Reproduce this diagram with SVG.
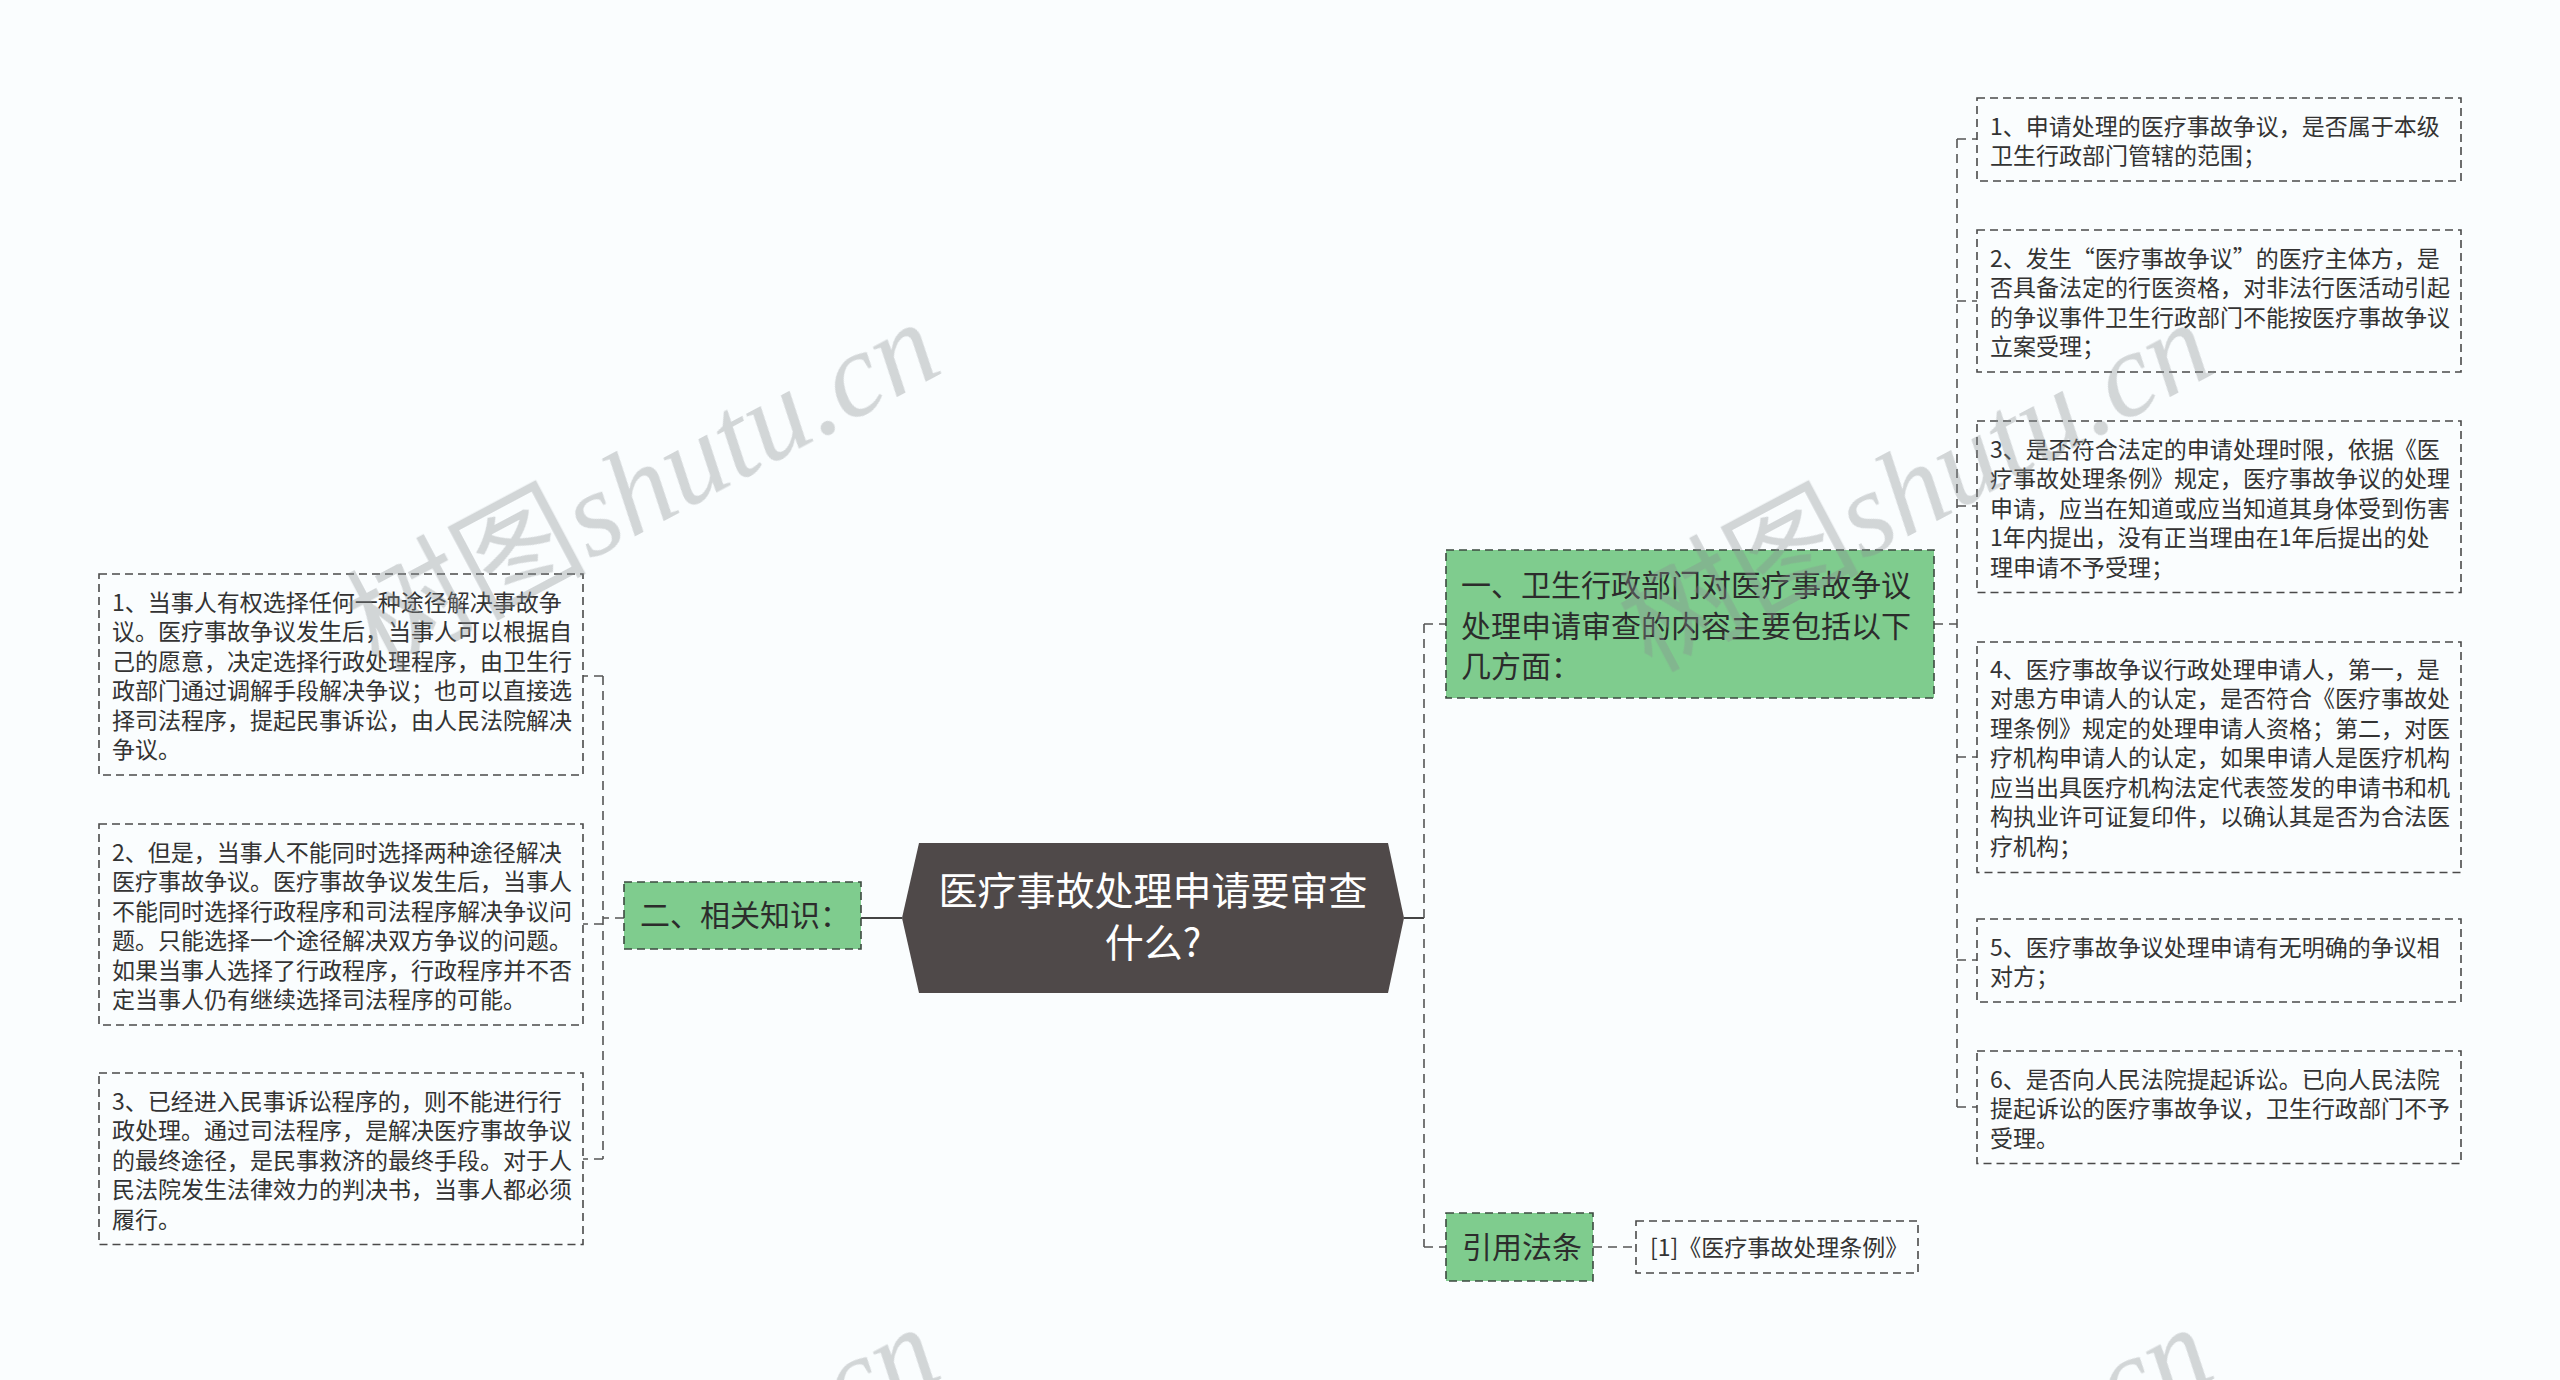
<svg xmlns="http://www.w3.org/2000/svg" width="2560" height="1380" viewBox="0 0 2560 1380">
<style>
  .bg{fill:#fafdfe}
  .box{fill:none;stroke:#4a4a4a;stroke-width:1.6;stroke-dasharray:8 5}
  .gbox{fill:#7fcc8e;stroke:#3d4a40;stroke-width:1.6;stroke-dasharray:8 5}
  .t{font-family:"Noto Sans CJK SC","Noto Sans",sans-serif;font-size:23px;fill:#333}
  .t1{font-family:"Noto Sans CJK SC","Noto Sans",sans-serif;font-size:30px;fill:#2c2c2c}
  .tc{font-family:"Noto Sans CJK SC","Noto Sans",sans-serif;font-size:39px;fill:#ffffff}
  .c{fill:none;stroke:#555;stroke-width:1.6;stroke-dasharray:9 6}
  .cs{fill:none;stroke:#444;stroke-width:2}
  .wm{font-size:120px;fill:#8a8f92;opacity:0.36}
</style>
<rect class="bg" x="0" y="0" width="2560" height="1380"/>

<g id="connectors">
  <path class="cs" d="M902,918 H861"/>
  <path class="cs" d="M1404,918 H1424"/>
  <path class="c" d="M1424,624 V1247"/>
  <path class="c" d="M1424,624 H1446"/>
  <path class="c" d="M1424,1247 H1446"/>
  <path class="c" d="M1593,1247 H1636"/>
  <path class="c" d="M1934,624 H1957"/>
  <path class="c" d="M1957,139 V1107"/>
  <path class="c" d="M1957,139 H1977"/>
  <path class="c" d="M1957,301 H1977"/>
  <path class="c" d="M1957,506 H1977"/>
  <path class="c" d="M1957,757 H1977"/>
  <path class="c" d="M1957,960 H1977"/>
  <path class="c" d="M1957,1107 H1977"/>
  <path class="c" d="M624,918 H603"/>
  <path class="c" d="M603,676 V1159"/>
  <path class="c" d="M603,676 H583"/>
  <path class="c" d="M603,924 H583"/>
  <path class="c" d="M603,1159 H583"/>
</g>

<g id="center">
  <polygon points="919,843 1388,843 1404,918 1388,993 919,993 902,918" fill="#4f4949"/>
  <text class="tc" text-anchor="middle"><tspan x="1153" y="905">医疗事故处理申请要审查</tspan><tspan x="1153" y="957">什么?</tspan></text>
</g>

<g id="node-review">
  <rect class="gbox" x="1446" y="550" width="488" height="148"/>
  <text class="t1"><tspan x="1461" y="596">一、卫生行政部门对医疗事故争议</tspan><tspan x="1461" y="636.5">处理申请审查的内容主要包括以下</tspan><tspan x="1461" y="677">几方面：</tspan></text>
</g>

<g id="node-knowledge">
  <rect class="gbox" x="624" y="882" width="237" height="67"/>
  <text class="t1" x="640" y="926">二、相关知识：</text>
</g>

<g id="node-law">
  <rect class="gbox" x="1446" y="1213" width="147" height="68"/>
  <text class="t1" x="1462" y="1257.5">引用法条</text>
</g>

<g id="node-ref">
  <rect class="box" x="1636" y="1221" width="282" height="52"/>
  <text class="t" x="1650" y="1256">[1]《医疗事故处理条例》</text>
</g>

<g id="item-r1">
  <rect class="box" x="1977" y="98" width="484" height="83"/>
  <text class="t"><tspan x="1990" y="134.5">1、申请处理的医疗事故争议，是否属于本级</tspan><tspan x="1990" y="164">卫生行政部门管辖的范围；</tspan></text>
</g>
<g id="item-r2">
  <rect class="box" x="1977" y="230" width="484" height="142"/>
  <text class="t"><tspan x="1990" y="266.5">2、发生“医疗事故争议”的医疗主体方，是</tspan><tspan x="1990" y="296">否具备法定的行医资格，对非法行医活动引起</tspan><tspan x="1990" y="325.5">的争议事件卫生行政部门不能按医疗事故争议</tspan><tspan x="1990" y="355">立案受理；</tspan></text>
</g>
<g id="item-r3">
  <rect class="box" x="1977" y="421" width="484" height="171.5"/>
  <text class="t"><tspan x="1990" y="457.5">3、是否符合法定的申请处理时限，依据《医</tspan><tspan x="1990" y="487">疗事故处理条例》规定，医疗事故争议的处理</tspan><tspan x="1990" y="516.5">申请，应当在知道或应当知道其身体受到伤害</tspan><tspan x="1990" y="546">1年内提出，没有正当理由在1年后提出的处</tspan><tspan x="1990" y="575.5">理申请不予受理；</tspan></text>
</g>
<g id="item-r4">
  <rect class="box" x="1977" y="642" width="484" height="230.5"/>
  <text class="t"><tspan x="1990" y="677.5">4、医疗事故争议行政处理申请人，第一，是</tspan><tspan x="1990" y="707">对患方申请人的认定，是否符合《医疗事故处</tspan><tspan x="1990" y="736.5">理条例》规定的处理申请人资格；第二，对医</tspan><tspan x="1990" y="766">疗机构申请人的认定，如果申请人是医疗机构</tspan><tspan x="1990" y="795.5">应当出具医疗机构法定代表签发的申请书和机</tspan><tspan x="1990" y="825">构执业许可证复印件，以确认其是否为合法医</tspan><tspan x="1990" y="854.5">疗机构；</tspan></text>
</g>
<g id="item-r5">
  <rect class="box" x="1977" y="919" width="484" height="83"/>
  <text class="t"><tspan x="1990" y="955.5">5、医疗事故争议处理申请有无明确的争议相</tspan><tspan x="1990" y="985">对方；</tspan></text>
</g>
<g id="item-r6">
  <rect class="box" x="1977" y="1051" width="484" height="112.5"/>
  <text class="t"><tspan x="1990" y="1087.5">6、是否向人民法院提起诉讼。已向人民法院</tspan><tspan x="1990" y="1117">提起诉讼的医疗事故争议，卫生行政部门不予</tspan><tspan x="1990" y="1146.5">受理。</tspan></text>
</g>

<g id="item-l1">
  <rect class="box" x="99" y="574" width="484" height="201"/>
  <text class="t"><tspan x="112" y="610.5">1、当事人有权选择任何一种途径解决事故争</tspan><tspan x="112" y="640">议。医疗事故争议发生后，当事人可以根据自</tspan><tspan x="112" y="669.5">己的愿意，决定选择行政处理程序，由卫生行</tspan><tspan x="112" y="699">政部门通过调解手段解决争议；也可以直接选</tspan><tspan x="112" y="728.5">择司法程序，提起民事诉讼，由人民法院解决</tspan><tspan x="112" y="758">争议。</tspan></text>
</g>
<g id="item-l2">
  <rect class="box" x="99" y="824" width="484" height="201"/>
  <text class="t"><tspan x="112" y="860.5">2、但是，当事人不能同时选择两种途径解决</tspan><tspan x="112" y="890">医疗事故争议。医疗事故争议发生后，当事人</tspan><tspan x="112" y="919.5">不能同时选择行政程序和司法程序解决争议问</tspan><tspan x="112" y="949">题。只能选择一个途径解决双方争议的问题。</tspan><tspan x="112" y="978.5">如果当事人选择了行政程序，行政程序并不否</tspan><tspan x="112" y="1008">定当事人仍有继续选择司法程序的可能。</tspan></text>
</g>
<g id="item-l3">
  <rect class="box" x="99" y="1073" width="484" height="171.5"/>
  <text class="t"><tspan x="112" y="1109.5">3、已经进入民事诉讼程序的，则不能进行行</tspan><tspan x="112" y="1139">政处理。通过司法程序，是解决医疗事故争议</tspan><tspan x="112" y="1168.5">的最终途径，是民事救济的最终手段。对于人</tspan><tspan x="112" y="1198">民法院发生法律效力的判决书，当事人都必须</tspan><tspan x="112" y="1227.5">履行。</tspan></text>
</g>

<g id="watermark" class="wm">
  <text transform="translate(662,522) rotate(-28)" text-anchor="middle"><tspan font-family="Noto Sans CJK SC,sans-serif">树图</tspan><tspan font-family="Liberation Serif,serif" font-style="italic">shutu.cn</tspan></text>
  <text transform="translate(1935,522) rotate(-28)" text-anchor="middle"><tspan font-family="Noto Sans CJK SC,sans-serif">树图</tspan><tspan font-family="Liberation Serif,serif" font-style="italic">shutu.cn</tspan></text>
  <text transform="translate(662,1527) rotate(-28)" text-anchor="middle"><tspan font-family="Noto Sans CJK SC,sans-serif">树图</tspan><tspan font-family="Liberation Serif,serif" font-style="italic">shutu.cn</tspan></text>
  <text transform="translate(1935,1527) rotate(-28)" text-anchor="middle"><tspan font-family="Noto Sans CJK SC,sans-serif">树图</tspan><tspan font-family="Liberation Serif,serif" font-style="italic">shutu.cn</tspan></text>
</g>
</svg>
